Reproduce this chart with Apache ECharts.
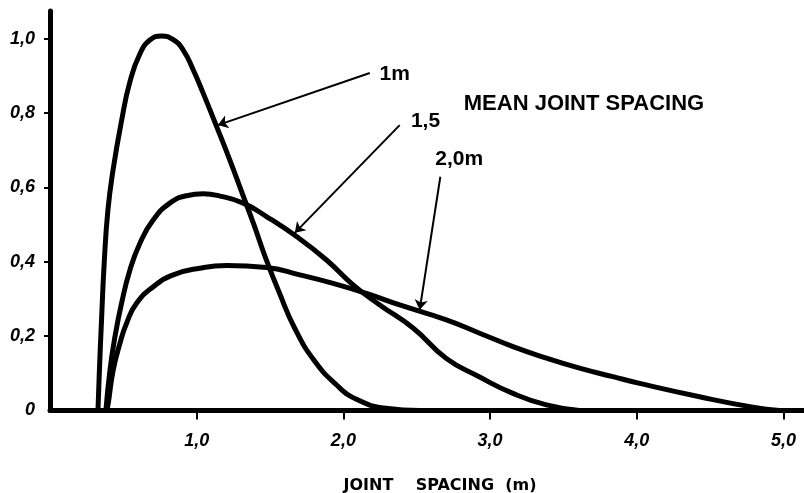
<!DOCTYPE html>
<html>
<head>
<meta charset="utf-8">
<title>Joint spacing distribution</title>
<script src="https://cdn.jsdelivr.net/npm/echarts@6/dist/echarts.min.js"></script>
<style>
  html, body { margin: 0; padding: 0; background: #fff; }
  #chart { width: 804px; height: 493px; }
</style>
</head>
<body>
<div id="chart"></div>
<script>
// curves: [joint spacing (m), relative frequency]
const spacing1m = [
  [0.327, 0], [0.336, 0.1], [0.352, 0.25], [0.37, 0.4], [0.395, 0.54],
  [0.431, 0.65], [0.488, 0.78], [0.545, 0.885], [0.613, 0.96], [0.681, 0.997],
  [0.761, 1.008], [0.84, 0.998], [0.908, 0.97], [0.976, 0.917], [1.044, 0.854],
  [1.136, 0.764], [1.226, 0.674], [1.31, 0.585], [1.39, 0.5], [1.47, 0.41],
  [1.56, 0.32], [1.67, 0.22], [1.8, 0.135], [1.95, 0.07], [2.09, 0.03],
  [2.29, 0.006], [2.52, 0]
];
const spacing15m = [
  [0.381, 0], [0.409, 0.109], [0.443, 0.199], [0.488, 0.289], [0.545, 0.378],
  [0.613, 0.45], [0.704, 0.513], [0.817, 0.558], [0.931, 0.578], [1.044, 0.583],
  [1.158, 0.577], [1.317, 0.558], [1.476, 0.522], [1.681, 0.468], [1.885, 0.405],
  [2.066, 0.338], [2.248, 0.284], [2.475, 0.222], [2.702, 0.14], [2.929, 0.09],
  [3.156, 0.046], [3.384, 0.015], [3.61, 0]
];
const spacing20m = [
  [0.388, 0], [0.397, 0.019], [0.431, 0.109], [0.477, 0.181], [0.522, 0.235],
  [0.591, 0.289], [0.704, 0.333], [0.84, 0.365], [1.022, 0.383], [1.204, 0.39],
  [1.476, 0.385], [1.703, 0.365], [1.93, 0.342], [2.157, 0.315], [2.384, 0.284],
  [2.702, 0.244], [2.929, 0.208], [3.156, 0.172], [3.384, 0.141], [3.61, 0.114],
  [3.837, 0.091], [4.019, 0.073], [4.428, 0.037], [4.791, 0.009], [4.973, 0]
];

const xTicks = [1, 2, 3, 4, 5];
const yTicks = [0, 0.2, 0.4, 0.6, 0.8, 1.0];

const curveNames = ["1m", "1,5", "2,0m"];
// arrow tail (near label) and head (on the curve), data units
const arrows = [
  [[2.18, 0.908], [1.144, 0.768]],
  [[2.384, 0.768], [1.669, 0.478]],
  [[2.661, 0.629], [2.52, 0.271]],
];
const nameAt = [[2.35, 0.905], [2.56, 0.779], [2.79, 0.676]];
const legendTitle = "MEAN JOINT SPACING";
const legendTitleAt = [3.64, 0.825];

function commaNum(v) {
  return v === 0 ? "0" : v.toFixed(1).replace(".", ",");
}

const chart = echarts.init(document.getElementById("chart"), null, { renderer: "canvas" });

const tickFont = {
  color: "#000",
  fontStyle: "italic",
  fontWeight: "bold",
  fontSize: 18,
  fontFamily: "Liberation Sans",
};

function curve(data, i) {
  return {
    name: curveNames[i],
    type: "line",
    data: data,
    smooth: 0.5,
    symbol: "none",
    lineStyle: { color: "#000", width: 5 },
    markLine: {
      silent: true,
      animation: false,
      symbol: ["none", "arrow"],
      symbolSize: 10,
      label: { show: false },
      lineStyle: { color: "#000", width: 2, type: "solid" },
      data: [[{ coord: arrows[i][0] }, { coord: arrows[i][1] }]],
    },
  };
}

chart.setOption({
  animation: false,
  backgroundColor: "#fff",
  // keep the plot box fixed; v6 would otherwise shrink it to fit the axis name
  grid: { left: 50, right: 0, top: 11, bottom: 82.5, containLabel: false, outerBoundsMode: "none" },
  xAxis: {
    type: "value",
    min: 0,
    max: 5.14,
    name: "JOINT    SPACING  (m)",
    nameLocation: "middle",
    nameGap: 67,
    nameTextStyle: {
      color: "#000", fontWeight: 900, fontSize: 16, fontFamily: "DejaVu Sans",
      padding: [0, 0, 0, 26],
    },
    axisLine: { show: true, onZero: false, lineStyle: { color: "#000", width: 5 } },
    axisTick: { show: true, customValues: xTicks, length: 9, lineStyle: { color: "#000", width: 2 } },
    axisLabel: Object.assign({ customValues: xTicks, formatter: commaNum, margin: 22 }, tickFont),
    splitLine: { show: false },
  },
  yAxis: {
    type: "value",
    min: 0,
    max: 1.075,
    axisLine: { show: true, onZero: false, lineStyle: { color: "#000", width: 5 } },
    axisTick: { show: true, customValues: yTicks.slice(1), length: 6, lineStyle: { color: "#000", width: 2 } },
    axisLabel: Object.assign({ customValues: yTicks, formatter: commaNum, margin: 15 }, tickFont),
    splitLine: { show: false },
  },
  series: [curve(spacing1m, 0), curve(spacing15m, 1), curve(spacing20m, 2)],
});

// curve names and the legend heading, placed in data units
function textAt(p, text, size) {
  const [x, y] = chart.convertToPixel({ gridIndex: 0 }, p);
  return {
    type: "text", x: x, y: y,
    style: { text: text, fill: "#000", font: "bold " + size + "px 'Liberation Sans'", align: "center", verticalAlign: "middle" },
  };
}
const labels = nameAt.map((p, i) => textAt(p, curveNames[i], 21));
labels.push(textAt(legendTitleAt, legendTitle, 22));
chart.setOption({ graphic: labels });
</script>
</body>
</html>
